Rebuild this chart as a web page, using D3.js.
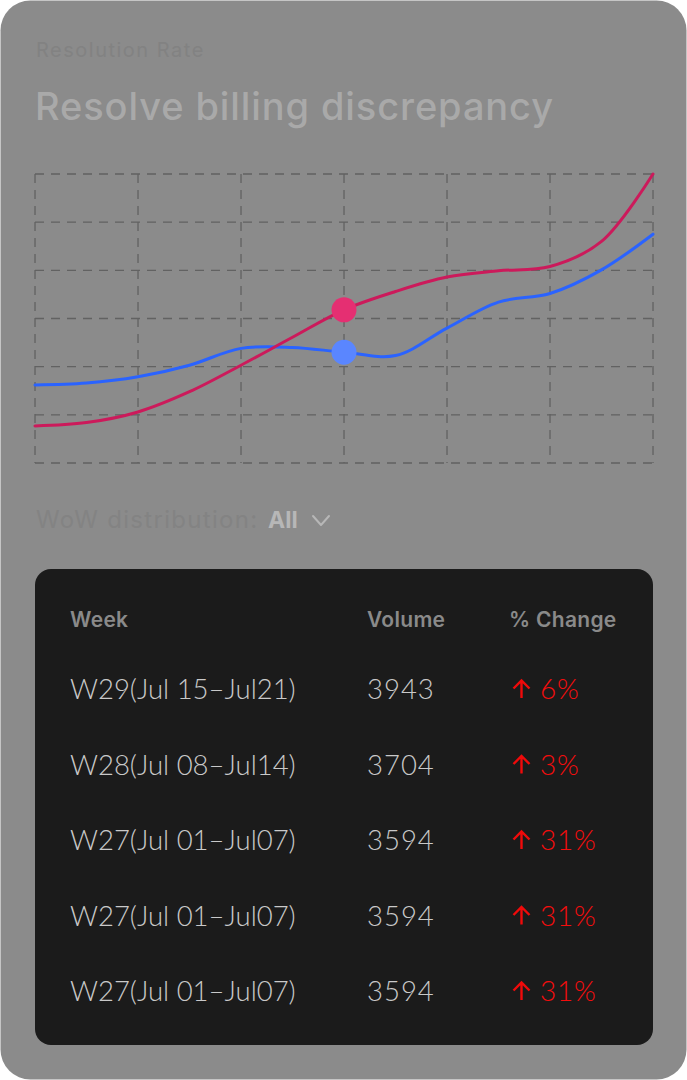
<!DOCTYPE html>
<html>
<head>
<meta charset="utf-8">
<script src="https://cdn.jsdelivr.net/npm/d3@7/dist/d3.min.js"></script>
<style>
  html, body { margin: 0; padding: 0; background: #ffffff; }
  svg { display: block; }
</style>
</head>
<body>
<svg id="chart" width="687" height="1080"></svg>
<script>
// ---------- data ----------
const xSteps = [0, 1, 2, 3, 4, 5, 6, 7, 8, 9, 10, 11, 12];
const redSeries  = [7.7, 8.4, 10.6, 14.8, 20.3, 26.1, 31.8, 35.6, 38.6, 39.9, 40.8, 46.0, 60.0];
const blueSeries = [16.2, 16.6, 17.9, 20.3, 23.8, 24.0, 23.0, 22.3, 28.0, 33.4, 35.2, 40.1, 47.5];
const highlightIndex = 6;
const gridXTicks = [0, 2, 4, 6, 8, 10, 12];
const gridYTicks = [0, 10, 20, 30, 40, 50, 60];

const subtitleText = "Resolution Rate";
const titleText = "Resolve billing discrepancy";
const filterLabel = "WoW distribution:";
const filterValue = "All";

const tableHeaders = ["Week", "Volume", "% Change"];
const weeks   = ["W29(Jul 15–Jul21)", "W28(Jul 08–Jul14)", "W27(Jul 01–Jul07)", "W27(Jul 01–Jul07)", "W27(Jul 01–Jul07)"];
const volumes = [3943, 3704, 3594, 3594, 3594];
const changes = [6, 3, 31, 31, 31];

// ---------- drawing ----------
const svg = d3.select("#chart");
const sans = "Inter, 'Open Sans', sans-serif";
const light = "Lato, 'Open Sans', sans-serif";

// card
svg.append("rect")
  .attr("x", 0.5).attr("y", 0.5)
  .attr("width", 686).attr("height", 1079)
  .attr("rx", 30).attr("ry", 30)
  .attr("fill", "#8b8b8b");

// header texts
svg.append("text")
  .attr("x", 36).attr("y", 57)
  .attr("font-family", sans)
  .attr("font-size", 20)
  .attr("letter-spacing", 1.5)
  .attr("fill", "#828282")
  .text(subtitleText);

svg.append("text")
  .attr("x", 35).attr("y", 120)
  .attr("font-family", sans)
  .attr("font-size", 38)
  .attr("font-weight", 500)
  .attr("letter-spacing", 0.9)
  .attr("fill", "#a9a9a9")
  .text(titleText);

// chart
const x = d3.scaleLinear().domain([0, 12]).range([35, 653]);
const y = d3.scaleLinear().domain([0, 60]).range([463, 174]);

const grid = svg.append("g")
  .attr("stroke", "#626262")
  .attr("stroke-width", 1.3)
  .attr("stroke-dasharray", "9,7")
  .attr("fill", "none");

grid.selectAll("line.h").data(gridYTicks).join("line")
  .attr("class", "h")
  .attr("x1", x(0)).attr("x2", x(12))
  .attr("y1", d => y(d)).attr("y2", d => y(d));

grid.selectAll("line.v").data(gridXTicks).join("line")
  .attr("class", "v")
  .attr("y1", y(60)).attr("y2", y(0))
  .attr("x1", d => x(d)).attr("x2", d => x(d));

const line = d3.line()
  .x((d, i) => x(xSteps[i]))
  .y(d => y(d))
  .curve(d3.curveCatmullRom.alpha(0.5));

svg.append("path")
  .datum(blueSeries)
  .attr("d", line)
  .attr("fill", "none")
  .attr("stroke", "#2a63ff")
  .attr("stroke-width", 3)
  .attr("stroke-linecap", "round");

svg.append("path")
  .datum(redSeries)
  .attr("d", line)
  .attr("fill", "none")
  .attr("stroke", "#cc1a5b")
  .attr("stroke-width", 3)
  .attr("stroke-linecap", "round");

svg.append("circle")
  .attr("cx", x(xSteps[highlightIndex]))
  .attr("cy", y(redSeries[highlightIndex]))
  .attr("r", 12.5)
  .attr("fill", "#e52f72");

svg.append("circle")
  .attr("cx", x(xSteps[highlightIndex]))
  .attr("cy", y(blueSeries[highlightIndex]))
  .attr("r", 12.5)
  .attr("fill", "#5a86ff");

// filter
svg.append("text")
  .attr("x", 36).attr("y", 528)
  .attr("font-family", sans)
  .attr("font-size", 24)
  .attr("letter-spacing", 1.3)
  .attr("fill", "#838383")
  .text(filterLabel);
svg.append("text")
  .attr("x", 268).attr("y", 528)
  .attr("font-family", sans)
  .attr("font-size", 23)
  .attr("font-weight", 700)
  .attr("fill", "#b7b7b7")
  .text(filterValue);

svg.append("path")
  .attr("d", "M313,516 L321,525 L329,516")
  .attr("fill", "none")
  .attr("stroke", "#b7b7b7")
  .attr("stroke-width", 2)
  .attr("stroke-linecap", "round")
  .attr("stroke-linejoin", "round");

// table
svg.append("rect")
  .attr("x", 35).attr("y", 569)
  .attr("width", 618).attr("height", 476)
  .attr("rx", 16).attr("ry", 16)
  .attr("fill", "#1b1b1b");

const colX = [70, 367, 509];
svg.append("g").selectAll("text").data(tableHeaders).join("text")
  .attr("x", (d, i) => colX[i])
  .attr("y", 627)
  .attr("font-family", sans)
  .attr("font-size", 21)
  .attr("font-weight", 600)
  .attr("letter-spacing", 0.3)
  .attr("fill", "#8a8a8a")
  .text(d => d);

const rowY = d3.scaleLinear().domain([0, 4]).range([699, 1001]);
const rows = svg.append("g").selectAll("g").data(weeks).join("g")
  .attr("transform", (d, i) => `translate(0,${rowY(i)})`);

rows.append("text")
  .attr("x", colX[0]).attr("y", 0)
  .attr("font-family", light)
  .attr("font-size", 27.5)
  .attr("font-weight", 300)
  .attr("fill", "#c9c9c9")
  .text(d => d);

rows.append("text")
  .attr("x", colX[1]).attr("y", 0)
  .attr("font-family", light)
  .attr("font-size", 27.5)
  .attr("font-weight", 300)
  .attr("letter-spacing", 1)
  .attr("fill", "#c9c9c9")
  .text((d, i) => volumes[i]);

// arrow symbol
rows.append("path")
  .attr("d", "M521.5,-1 L521.5,-18.5 M513.5,-10.5 L521.5,-18.5 L529.5,-10.5")
  .attr("fill", "none")
  .attr("stroke", "#f00a0a")
  .attr("stroke-width", 2.4)
  .attr("stroke-linecap", "butt")
  .attr("stroke-linejoin", "miter");

rows.append("text")
  .attr("x", 540).attr("y", 0)
  .attr("font-family", light)
  .attr("font-size", 28)
  .attr("font-weight", 300)
  .attr("letter-spacing", 0.8)
  .attr("fill", "#f50d0d")
  .text((d, i) => changes[i] + "%");
</script>
</body>
</html>
